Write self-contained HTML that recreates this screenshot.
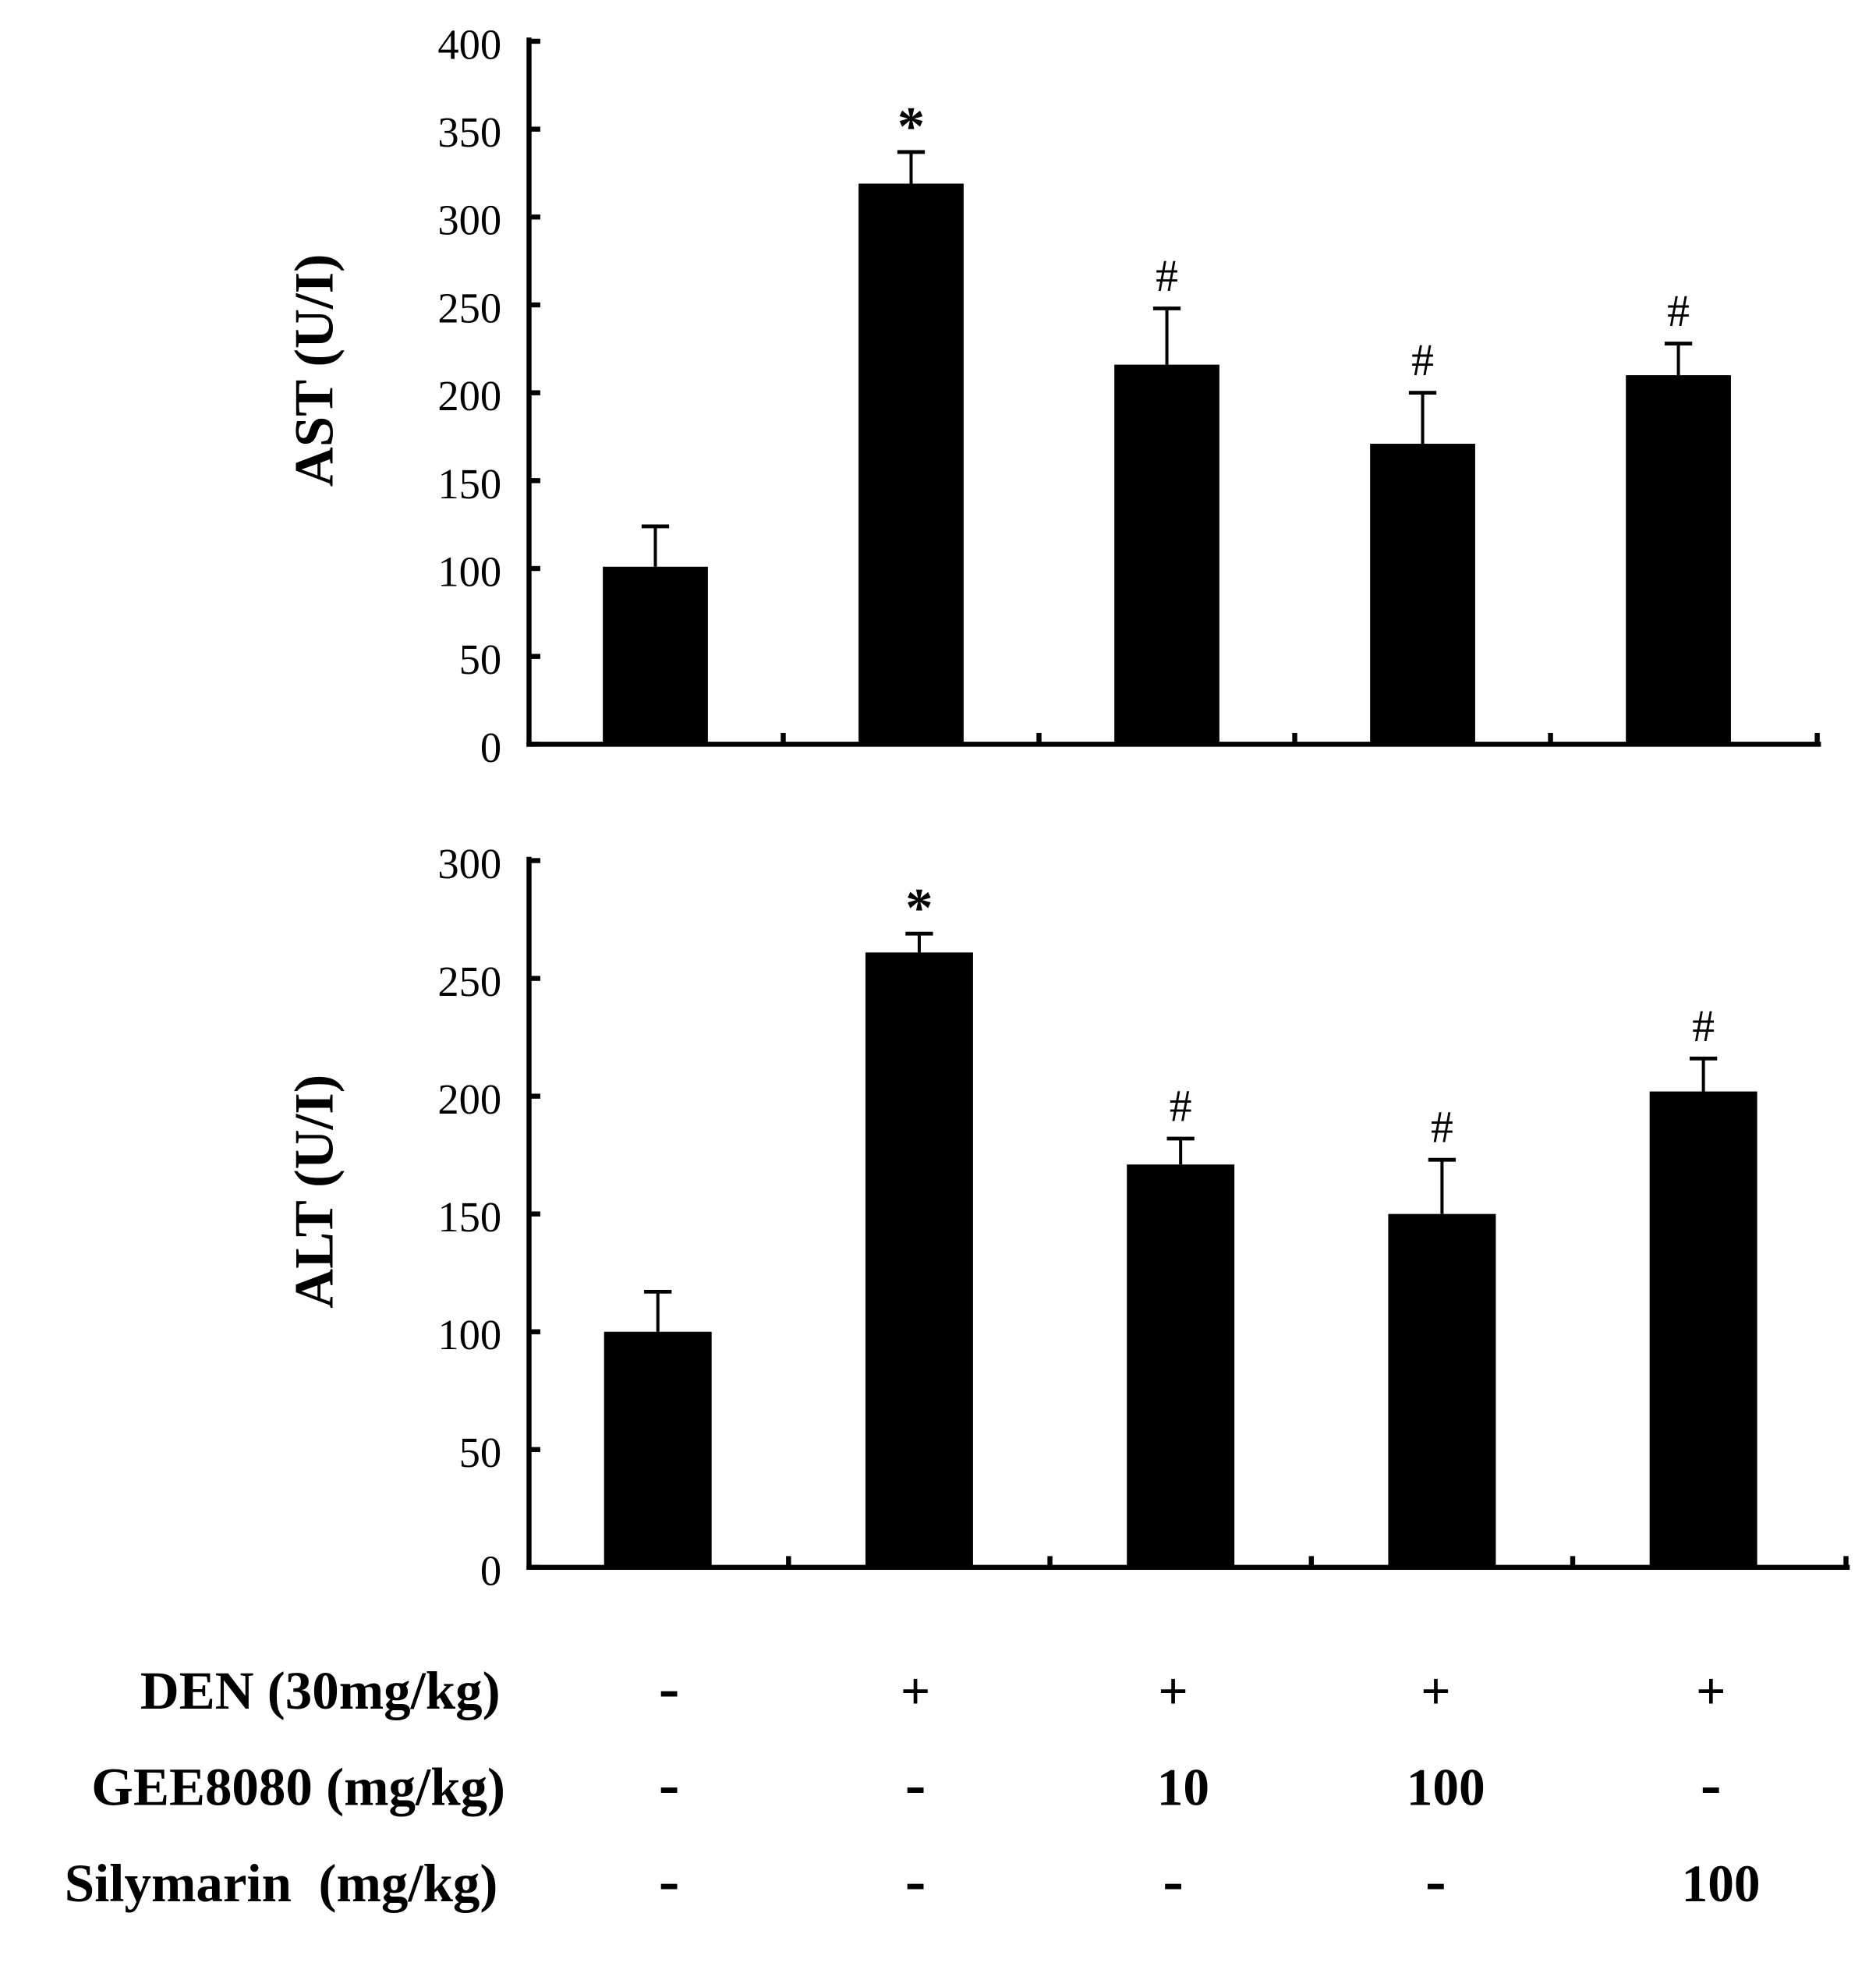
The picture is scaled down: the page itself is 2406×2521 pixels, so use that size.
<!DOCTYPE html>
<html><head><meta charset="utf-8"><style>
html,body{margin:0;padding:0;background:#fff}
svg{display:block}
text{font-family:"Liberation Serif",serif;fill:#000}
</style></head><body>
<svg id="fig" width="2406" height="2521" viewBox="0 0 1500 1571.7" xmlns="http://www.w3.org/2000/svg"></svg>
<script>
const groups = ["Control","DEN","DEN+GEE10","DEN+GEE100","DEN+Sily100"];
const astValues = [101, 319, 216, 171, 210];
const astErrors = [23, 18, 32, 29, 18];
const astMarks = ["", "*", "#", "#", "#"];
const astTicks = [0,50,100,150,200,250,300,350,400];
const altValues = [100, 261, 171, 150, 202];
const altErrors = [17, 8, 11, 23, 14];
const altMarks = ["", "*", "#", "#", "#"];
const altTicks = [0,50,100,150,200,250,300];
const rowLabels = ["DEN (30mg/kg)","GEE8080 (mg/kg)","Silymarin\u00a0\u00a0(mg/kg)"];
const denRow = ["-","+","+","+","+"];
const geeRow = ["-","-","10","100","-"];
const silyRow = ["-","-","-","-","100"];

const NS="http://www.w3.org/2000/svg";
const svg=document.getElementById('fig');
function el(tag,attrs,parent){const e=document.createElementNS(NS,tag);for(const k in attrs)e.setAttribute(k,attrs[k]);(parent||svg).appendChild(e);return e;}

function panel(cfg){
  const g=el('g',{});
  
  
  const maxV=cfg.ticks[cfg.ticks.length-1];
  const y=v=>cfg.y0-(v/maxV)*(cfg.y0-cfg.yTop);
  const x=i=>cfg.c0+cfg.step*i;
  const ya=el('line',{x1:cfg.ax,y1:cfg.yTop-3,x2:cfg.ax,y2:cfg.y0+2,stroke:'#000','stroke-width':4},g);
  
  
  cfg.ticks.forEach(t=>{
    el('line',{x1:cfg.ax,y1:y(t),x2:cfg.ax+9,y2:y(t),stroke:'#000','stroke-width':4},g);
    const tl=el('text',{x:cfg.ax-22,y:y(t)+14,'text-anchor':'end','font-size':34},g);
    tl.textContent=t;
    
    
  });
  const xa=el('line',{x1:cfg.ax-2,y1:cfg.y0,x2:cfg.xEnd,y2:cfg.y0,stroke:'#000','stroke-width':4},g);
  
  
  for(let i=0;i<groups.length;i++){
    const tx=i<groups.length-1?(x(i)+x(i+1))/2:cfg.xEnd-3;
    el('line',{x1:tx,y1:cfg.y0,x2:tx,y2:cfg.y0-9,stroke:'#000','stroke-width':4},g);
  }
  const ty=(cfg.yTop+cfg.y0)/2-18;
  const title=el('text',{x:0,y:0,transform:`translate(266,${ty}) rotate(-90)`,'text-anchor':'middle','font-size':44,'font-weight':'bold'},g);
  title.textContent=cfg.title;
  
  
  cfg.values.forEach((v,i)=>{
    const cx=x(i);
    const top=y(v+cfg.errors[i]);
    const eb=el('line',{x1:cx,y1:y(v),x2:cx,y2:top,stroke:'#000','stroke-width':2.5},g);
    
    
    el('line',{x1:cx-11,y1:top,x2:cx+11,y2:top,stroke:'#000','stroke-width':3},g);
    const b=el('rect',{x:cx-cfg.bw/2,y:y(v),width:cfg.bw,height:cfg.y0-y(v),fill:'#000'},g);
    
    
    if(cfg.marks[i]){
      const star=cfg.marks[i]==='*';
      const m=el('text',{x:cx,y:top-(star?6:14),'text-anchor':'middle','font-size':star?44:36,'font-weight':star?'bold':'normal'},g);
      m.textContent=cfg.marks[i];
      
      
    }
  });
}
panel({name:'ast',title:'AST (U/I)',values:astValues,errors:astErrors,marks:astMarks,ticks:astTicks,ax:423,yTop:33,y0:595,xEnd:1456,c0:524,step:204.5,bw:84});
panel({name:'alt',title:'ALT (U/I)',values:altValues,errors:altErrors,marks:altMarks,ticks:altTicks,ax:423,yTop:688,y0:1253,xEnd:1479,c0:526,step:209,bw:86});

const cols=[535,732,938,1148,1368];
const rows=[denRow,geeRow,silyRow];
const rowY=[1366,1443,1520];
rows.forEach((r,ri)=>{
  const lab=el('text',{x:ri===2?398:ri===1?404:400,y:rowY[ri],'text-anchor':'end','font-size':43,'font-weight':'bold'});
  lab.textContent=rowLabels[ri];
  
  
  r.forEach((s,ci)=>{
    const isNum=/\d/.test(s);
    const t=el('text',{x:cols[ci]+(isNum?8:0),y:rowY[ri],'text-anchor':'middle','font-size':s==='-'?50:42,'font-weight':'bold'});
    t.textContent=s;
    
    
  });
});
</script>
</body></html>
